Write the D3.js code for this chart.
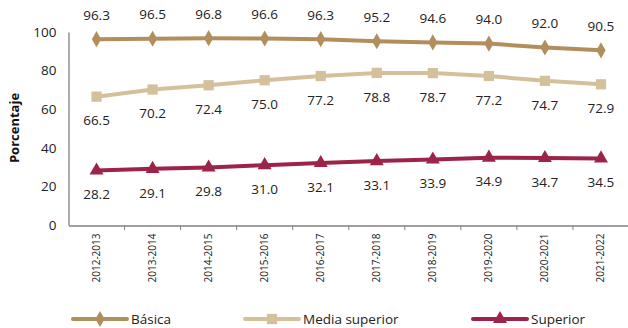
<!DOCTYPE html>
<html><head><meta charset="utf-8">
<script src="https://cdn.jsdelivr.net/npm/d3@7"></script>
<style>body{margin:0;background:#fff}svg{display:block}</style>
</head><body>
<svg id="c" width="628" height="328"></svg>
<script>
const categories = ["2012-2013","2013-2014","2014-2015","2015-2016","2016-2017","2017-2018","2018-2019","2019-2020","2020-2021","2021-2022"];
const basica = [96.3,96.5,96.8,96.6,96.3,95.2,94.6,94.0,92.0,90.5];
const mediaSuperior = [66.5,70.2,72.4,75.0,77.2,78.8,78.7,77.2,74.7,72.9];
const superior = [28.2,29.1,29.8,31.0,32.1,33.1,33.9,34.9,34.7,34.5];
const yTicks = [0,20,40,60,80,100];

const series = [
  {name:"Básica", values:basica, color:"#B38E5D", symbol:d3.symbolDiamond, size:75, dy:-24, lx:73},
  {name:"Media superior", values:mediaSuperior, color:"#D4C19C", symbol:d3.symbolSquare, size:105, dy:24, lx:245},
  {name:"Superior", values:superior, color:"#9D2449", symbol:d3.symbolTriangle, size:85, dy:24, lx:473}
];

const svg = d3.select("#c");
const font = "'Open Sans', sans-serif";
const x = d3.scaleBand().domain(categories).range([68.5,629]);
const y = d3.scaleLinear().domain([0,100]).range([225,32]);
const cx = d => x(d) + x.bandwidth()/2;

// y axis
const ya = svg.append("g").attr("transform","translate(68.5,0)")
  .call(d3.axisLeft(y).tickValues(yTicks).tickSize(0).tickPadding(12));
ya.select(".domain").attr("stroke","#808080").attr("stroke-width",1.3);
ya.selectAll("text").attr("font-family",font).attr("font-size",13.5).attr("fill","#222");

// x axis
const xa = svg.append("g").attr("transform","translate(0,225.5)")
  .call(d3.axisBottom(x).tickSize(0).tickSizeOuter(0));
xa.select(".domain").attr("stroke","#808080").attr("stroke-width",1.3);
xa.selectAll(".tick text").attr("font-family",font).attr("font-size",10).attr("fill","#222")
  .attr("transform","rotate(-90)").attr("text-anchor","end")
  .attr("x",-8).attr("y",0).attr("dy","0.35em").attr("dx",0);
// tick marks between categories
svg.append("g").selectAll("line").data(categories.slice(1)).join("line")
  .attr("x1",d=>x(d)).attr("x2",d=>x(d)).attr("y1",225.5).attr("y2",230)
  .attr("stroke","#808080").attr("stroke-width",1);

// y title
svg.append("text").attr("transform","translate(19,128) rotate(-90)")
  .attr("text-anchor","middle").attr("font-family",font).attr("font-weight","bold")
  .attr("font-size",13).attr("fill","#111").text("Porcentaje");

const line = d3.line().x((d,i)=>cx(categories[i])).y(d=>y(d));
series.forEach(s=>{
  svg.append("path").datum(s.values).attr("d",line).attr("fill","none")
    .attr("stroke",s.color).attr("stroke-width",4);
  svg.append("g").selectAll("path").data(s.values).join("path")
    .attr("d",d3.symbol().type(s.symbol).size(s.size))
    .attr("transform",(d,i)=>`translate(${cx(categories[i])},${y(d)})`)
    .attr("fill",s.color);
  svg.append("g").selectAll("text").data(s.values).join("text")
    .attr("x",(d,i)=>cx(categories[i])).attr("y",d=>y(d)+s.dy).attr("dy","0.35em")
    .attr("text-anchor","middle").attr("font-family",font).attr("font-size",13.5).attr("fill","#222")
    .text(d=>d.toFixed(1));
  // legend
  const lg = svg.append("g").attr("transform",`translate(${s.lx},319)`);
  lg.append("line").attr("x1",0).attr("x2",54).attr("stroke",s.color).attr("stroke-width",4).attr("stroke-linecap","round");
  lg.append("path").attr("d",d3.symbol().type(s.symbol).size(s.size)).attr("transform","translate(27,0)").attr("fill",s.color);
  lg.append("text").attr("x",58).attr("dy","0.35em").attr("font-family",font).attr("font-size",13.5).attr("fill","#222").text(s.name);
});
</script>
</body></html>
